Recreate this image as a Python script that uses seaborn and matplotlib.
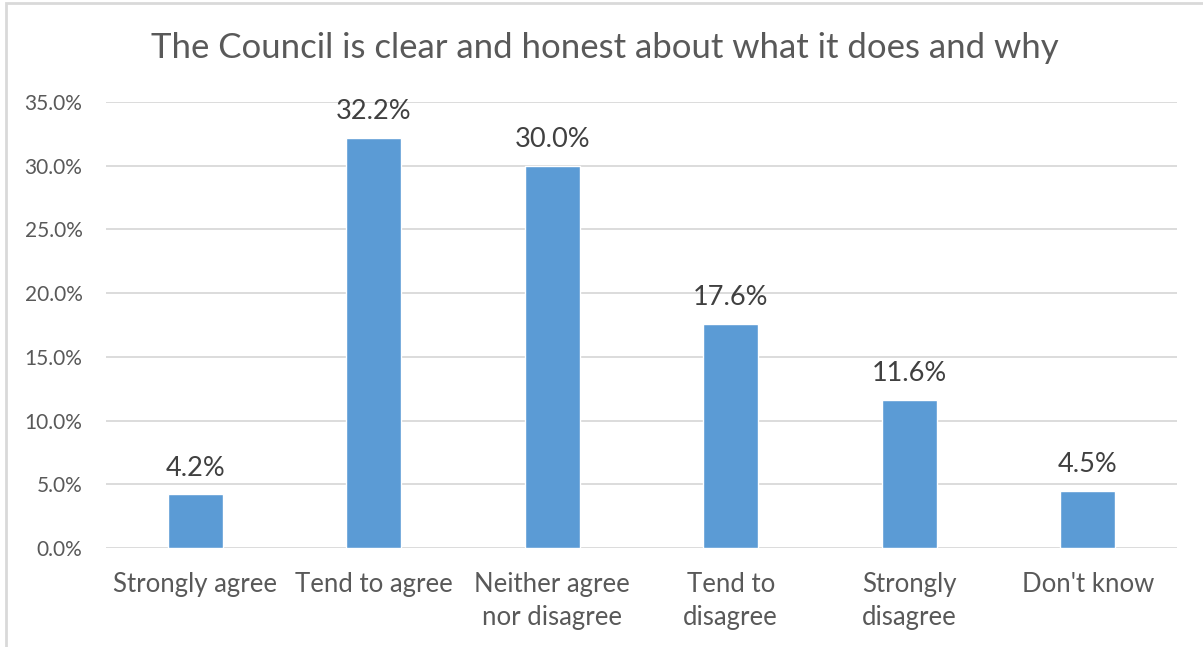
import matplotlib
matplotlib.use("Agg")
import matplotlib.pyplot as plt
from matplotlib.patches import Rectangle
import seaborn as sns
import pandas as pd

categories = ["Strongly agree", "Tend to agree", "Neither agree\nnor disagree",
              "Tend to\ndisagree", "Strongly\ndisagree", "Don't know"]
values = [4.2, 32.2, 30.0, 17.6, 11.6, 4.5]
y_ticks = [0, 5, 10, 15, 20, 25, 30, 35]
title = "The Council is clear and honest about what it does and why"

sns.set_theme(style="white")
plt.rcParams["font.family"] = ["Lato", "DejaVu Sans"]

text_color = "#595959"
grid_color = "#D9D9D9"
bar_color = "#5B9BD5"

W, H = 1203, 647
fig = plt.figure(figsize=(W / 100, H / 100), dpi=100)
ax = fig.add_axes([106 / W, 1 - 548 / H, (1177 - 106) / W, (548 - 102) / H])

df = pd.DataFrame({"category": categories, "value": values})
sns.barplot(data=df, x="category", y="value", color=bar_color, width=0.31,
            saturation=1, ax=ax, zorder=3)

ax.set_ylim(0, 35)
ax.set_xlim(-0.5, len(categories) - 0.5)
ax.set_yticks(y_ticks)
ax.set_yticklabels([f"{t:.1f}%" for t in y_ticks], fontsize=15, color=text_color)
ax.set_xticks(range(len(categories)))
ax.set_xticklabels(categories, fontsize=18.5, color=text_color, linespacing=1.4)
ax.tick_params(axis="both", length=0)
ax.tick_params(axis="y", pad=17)
ax.tick_params(axis="x", pad=17)
ax.set_xlabel("")
ax.set_ylabel("")
for s in ax.spines.values():
    s.set_visible(False)
ax.yaxis.grid(True, color=grid_color, linewidth=1.3, zorder=0)
ax.set_axisbelow(True)

for i, v in enumerate(values):
    ax.annotate(f"{v:.1f}%", (i, v), xytext=(0, 10), textcoords="offset points",
                ha="center", va="bottom", fontsize=19.5, color="#404040")

fig.text(605 / W, 1 - 48 / H, title, ha="center", va="center",
         fontsize=25, color=text_color)

# chart-area frame
fig.patches.append(Rectangle((6 / W, -0.05), 1.2, 1 - 3 / H + 0.05,
                             transform=fig.transFigure, fill=False,
                             edgecolor="#D9D9D9", linewidth=2))

fig.savefig("out.png", dpi=100, facecolor="white")
